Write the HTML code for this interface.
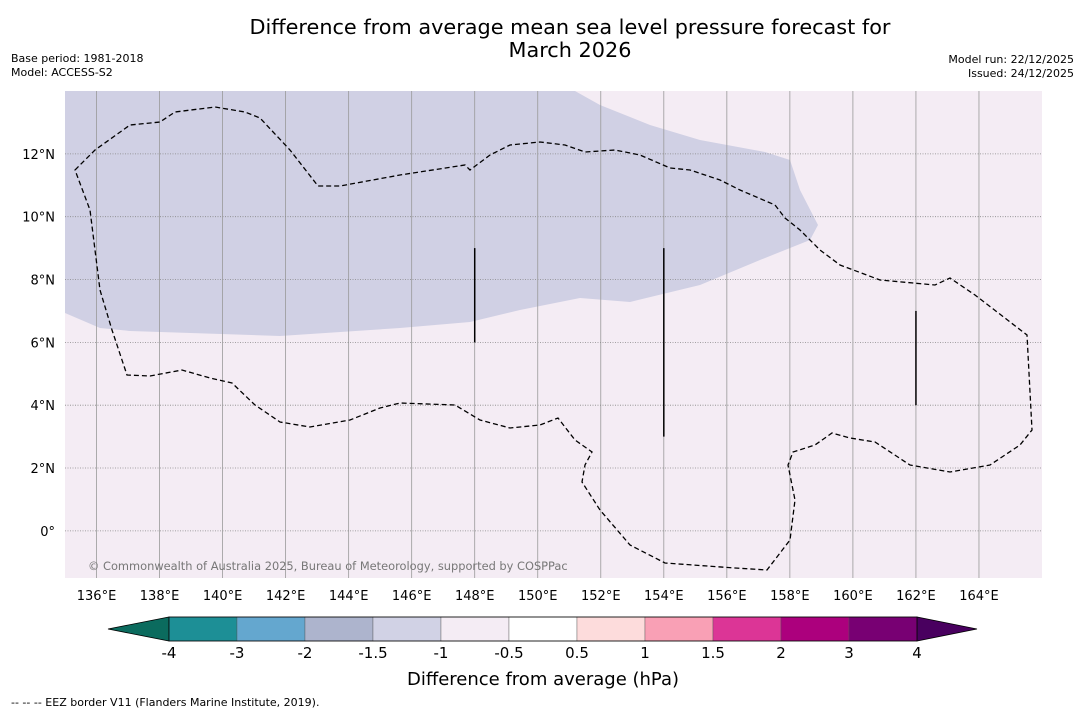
<!DOCTYPE html>
<html><head><meta charset="utf-8"><style>
body{margin:0;background:#fff;width:1085px;height:713px;overflow:hidden;font-family:"Liberation Sans","DejaVu Sans",sans-serif}
svg text{font-family:"DejaVu Sans","Liberation Sans",sans-serif}
</style></head><body>
<svg width="1085" height="713">
<text x="570" y="34" font-size="20.8" text-anchor="middle">Difference from average mean sea level pressure forecast for</text>
<text x="570" y="57" font-size="20.8" text-anchor="middle">March 2026</text>
<text x="11" y="62" font-size="11">Base period: 1981-2018</text>
<text x="11" y="76" font-size="11">Model: ACCESS-S2</text>
<text x="1074" y="63" font-size="11" text-anchor="end">Model run: 22/12/2025</text>
<text x="1074" y="77" font-size="11" text-anchor="end">Issued: 24/12/2025</text>
<g id="map"></g>
<g id="cbar"></g>
<text x="543" y="685" font-size="18" text-anchor="middle">Difference from average (hPa)</text>
<text x="11" y="706" font-size="11">--  --  -- EEZ border V11 (Flanders Marine Institute, 2019).</text>
</svg>
<script>
const lonTicks=[136,138,140,142,144,146,148,150,152,154,156,158,160,162,164];
const latTicks=[0,2,4,6,8,10,12];
const cbLevels=[-4,-3,-2,-1.5,-1,-0.5,0.5,1,1.5,2,3,4];
const cbColors=["#1d8f96","#64a7cf","#adb4cd","#d1d2e5","#f4ecf4","#ffffff","#fddcdc","#f9a0b5","#dc3596","#ac007d","#780073"];
const lowColor="#0b6b5e", highColor="#49005f";
const NS="http://www.w3.org/2000/svg";
const X0=65,X1=1042,Y0=91,Y1=578,LON0=135,LON1=166,LAT0=-1.5,LAT1=14;
const xs=l=>X0+(l-LON0)/(LON1-LON0)*(X1-X0);
const ys=l=>Y1-(l-LAT0)/(LAT1-LAT0)*(Y1-Y0);
function mk(tag,at,parent){const e=document.createElementNS(NS,tag);for(const k in at)e.setAttribute(k,at[k]);parent.appendChild(e);return e;}
const map=document.getElementById('map');
let bg=mk('rect',{x:X0,y:Y0,width:X1-X0,height:Y1-Y0,fill:'#f4ecf4'},map);


let neg=mk('path',{fill:'#d0d0e4',d:'M65,91 L575,91 L600,105 L650,125 L700,140 L765,152 L790,160 L800,190 L818,225 L810,240 L760,260 L700,285 L630,302 L580,298 L520,310 L470,322 L400,328 L280,336 L130,331 L100,328 L65,313 Z'},map);


lonTicks.forEach(l=>{
 const g=mk('line',{x1:xs(l),x2:xs(l),y1:Y0,y2:Y1,stroke:'#999','stroke-width':0.8},map);
 
 
 const t=mk('text',{x:xs(l),y:600,'font-size':13,'text-anchor':'middle'},map);t.textContent=l+'°E';
 
 
});
latTicks.forEach(l=>{
 const g=mk('line',{x1:X0,x2:X1,y1:ys(l),y2:ys(l),stroke:'#888','stroke-width':0.8,'stroke-dasharray':'1,1.5'},map);
 
 
 const t=mk('text',{x:55,y:ys(l)+5,'font-size':13,'text-anchor':'end'},map);t.textContent=l===0?'0°':l+'°N';
 
 
});
let eez=mk('path',{fill:'none',stroke:'#000','stroke-width':1.3,'stroke-dasharray':'5,3',d:'M75,170 L95,150 L130,125 L160,122 L175,112 L215,107 L245,112 L260,118 L290,150 L318,186 L340,186 L400,175 L465,165 L470,170 L490,155 L510,145 L540,142 L565,145 L585,152 L615,150 L640,155 L670,168 L690,170 L720,180 L740,190 L775,205 L785,218 L800,230 L820,250 L840,265 L880,280 L935,285 L950,278 L975,295 L1027,335 L1032,430 L1020,445 L990,465 L950,472 L910,465 L875,442 L850,438 L832,433 L815,445 L793,452 L788,465 L795,500 L790,540 L767,570 L735,568 L665,563 L630,545 L600,510 L582,482 L585,465 L592,452 L575,440 L558,418 L540,425 L510,428 L480,420 L455,405 L400,403 L380,408 L350,420 L310,427 L280,422 L255,405 L232,383 L210,378 L182,370 L150,376 L127,375 L112,330 L100,290 L95,250 L90,210 Z'},map);


[[148,9,6],[154,9,3],[162,7,4]].forEach(s=>{
 const l=mk('line',{x1:xs(s[0]),x2:xs(s[0]),y1:ys(s[1]),y2:ys(s[2]),stroke:'#000','stroke-width':1.5},map);
 
 
});
let cp=mk('text',{x:88,y:570,'font-size':11.4,fill:'#777'},map);cp.textContent='© Commonwealth of Australia 2025, Bureau of Meteorology, supported by COSPPac';


const cb=document.getElementById('cbar');
const CB0=169,CB1=917,CBY=617,CBH=24;
const bw=(CB1-CB0)/(cbLevels.length-1);
let lt=mk('polygon',{points:`${CB0},${CBY} ${CB0},${CBY+CBH} 108,${CBY+CBH/2}`,fill:lowColor,stroke:'#000','stroke-width':0.8},cb);


let rt=mk('polygon',{points:`${CB1},${CBY} ${CB1},${CBY+CBH} 977,${CBY+CBH/2}`,fill:highColor,stroke:'#000','stroke-width':0.8},cb);


cbColors.forEach((c,i)=>{
 const r=mk('rect',{x:CB0+i*bw,y:CBY,width:bw,height:CBH,fill:c,stroke:'#555','stroke-width':0.4},cb);
 
 
});
mk('rect',{x:CB0,y:CBY,width:CB1-CB0,height:CBH,fill:'none',stroke:'#000','stroke-width':0.8},cb);
cbLevels.forEach((v,i)=>{
 const t=mk('text',{x:CB0+i*bw,y:658,'font-size':15,'text-anchor':'middle'},cb);t.textContent=v;
 
 
});
</script>
</body></html>
